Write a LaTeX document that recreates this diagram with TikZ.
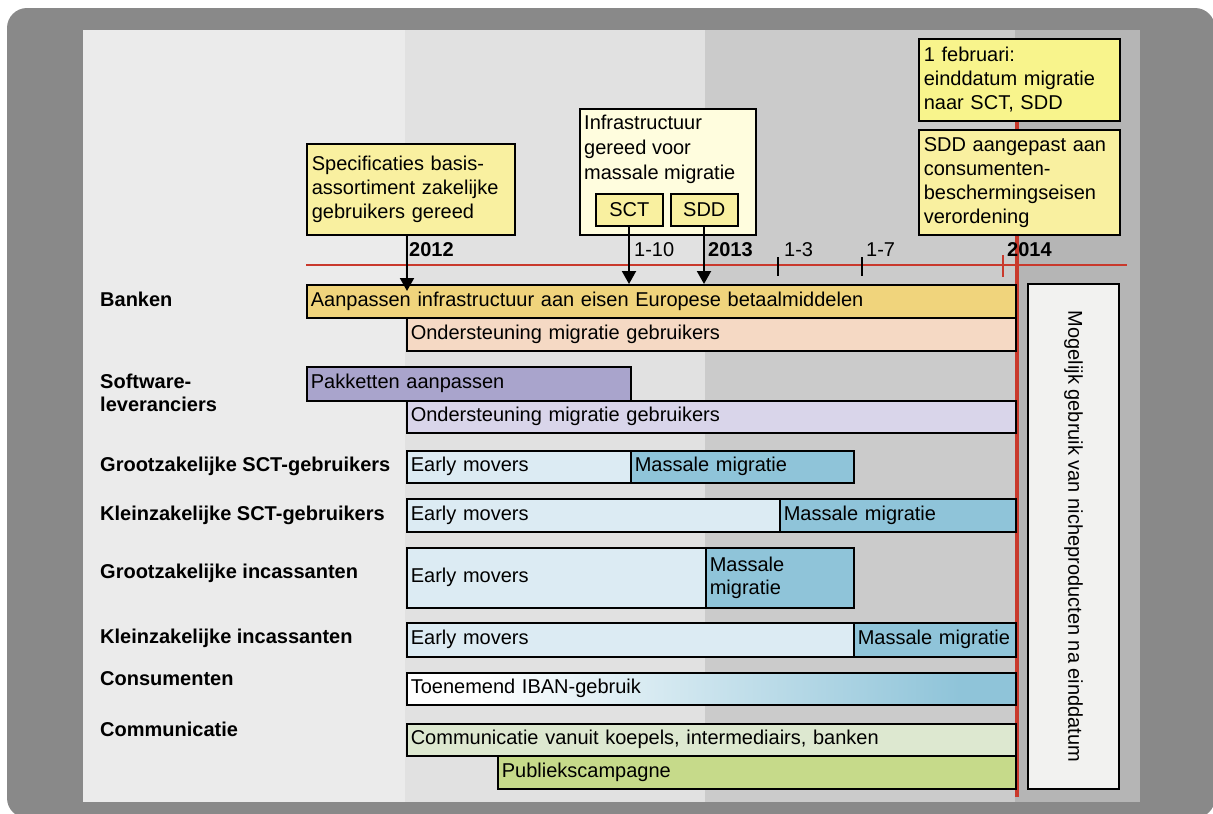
\documentclass[tikz,border=0pt]{standalone}
\usepackage{fontspec}
\setmainfont{Liberation Sans}
\usetikzlibrary{arrows.meta}
\definecolor{outergray}{HTML}{898989}
\definecolor{bandA}{HTML}{EBEBEB}
\definecolor{bandB}{HTML}{E1E1E1}
\definecolor{bandC}{HTML}{CBCBCB}
\definecolor{bandD}{HTML}{B5B5B5}
\definecolor{tlred}{HTML}{C9392C}
\definecolor{calloutY}{HTML}{F9F0A0}
\definecolor{calloutYb}{HTML}{F8F48C}
\definecolor{calloutLight}{HTML}{FFFDDE}
\definecolor{goldbar}{HTML}{F0D47C}
\definecolor{peachbar}{HTML}{F5D9C4}
\definecolor{purplebar}{HTML}{A9A4CC}
\definecolor{lilacbar}{HTML}{D9D5EA}
\definecolor{earlybar}{HTML}{DCEBF3}
\definecolor{massbar}{HTML}{8FC4D9}
\definecolor{commbar}{HTML}{DDE8D0}
\definecolor{publbar}{HTML}{C6DA8A}
\definecolor{nichebox}{HTML}{F2F2F0}
\tikzset{
  txt/.style={font=\fontsize{20}{23}\selectfont},
  barbox/.style={txt, draw=black, line width=1.6pt, inner xsep=4pt, inner ysep=0pt, align=left},
  callout/.style={txt, draw=black, line width=1.6pt, inner xsep=5pt, inner ysep=2pt, align=left, font=\fontsize{20}{24}\selectfont},
  rowlabel/.style={font=\bfseries\fontsize{20}{23}\selectfont, anchor=west, inner sep=0pt, align=left},
  yearlabel/.style={font=\bfseries\fontsize{20}{23}\selectfont, anchor=base west, inner sep=0pt},
  datelabel/.style={txt, anchor=base west, inner sep=0pt},
  arrowln/.style={line width=2pt, -{Triangle[width=14pt,length=13pt]}},
  tick/.style={line width=1.6pt}
}
\newcommand\mkbar[7]{%
  \pgfmathsetmacro\bw{#4-#2}\pgfmathsetmacro\bh{#5-#3}\pgfmathsetmacro\tw{#4-#2-8}%
  \node[barbox, fill=#6, minimum width=\bw pt, minimum height=\bh pt, text width=\tw pt, anchor=north west] (#1) at (#2,#3) {#7};}
\begin{document}
\begin{tikzpicture}[x=1pt,y=-1pt]
\useasboundingbox (0,0) rectangle (1213,814);
% frame and bands
\fill[outergray, rounded corners=20pt] (7,8) rectangle (1215,818);
\fill[bandA] (83,30) rectangle (405,802);
\fill[bandB] (405,30) rectangle (705,802);
\fill[bandC] (705,30) rectangle (1015,802);
\fill[bandD] (1015,30) rectangle (1140,802);
% timeline
\draw[tlred, line width=1.6pt] (306,265) -- (1127,265);
\draw[tick] (778,257) -- (778,276);
\draw[tick] (862,257) -- (862,276);
\draw[tlred, line width=1.6pt] (1003,255) -- (1003,277);
\draw[tlred, line width=4pt] (1017,40) -- (1017,797);
\node[yearlabel] (y12) at (409,256) {2012};
\node[datelabel] (d110) at (634,256) {1-10};
\node[yearlabel] (y13) at (708,256) {2013};
\node[datelabel] (d13) at (784,256) {1-3};
\node[datelabel] (d17) at (866,256) {1-7};
\node[yearlabel] (y14) at (1007,256) {2014};
% row labels
\node[rowlabel] (lBank) at (100,299) {Banken};
\node[rowlabel] (lSoft) at (100,393) {Software-\\leveranciers};
\node[rowlabel] (lGSCT) at (100,466) {Grootzakelijke SCT-gebruikers};
\node[rowlabel] (lKSCT) at (100,515) {Kleinzakelijke SCT-gebruikers};
\node[rowlabel] (lGInc) at (100,573) {Grootzakelijke incassanten};
\node[rowlabel] (lKInc) at (100,638) {Kleinzakelijke incassanten};
\node[rowlabel] (lCons) at (100,679) {Consumenten};
\node[rowlabel] (lComm) at (100,729) {Communicatie};
% bars
\mkbar{bAanp}{306}{284}{1015}{317}{goldbar}{Aanpassen infrastructuur aan eisen Europese betaalmiddelen}
\mkbar{bOndB}{406}{317}{1015}{350}{peachbar}{Ondersteuning migratie gebruikers}
\mkbar{bPakk}{306}{366}{630}{400}{purplebar}{Pakketten aanpassen}
\mkbar{bOndS}{406}{400}{1015}{432}{lilacbar}{Ondersteuning migratie gebruikers}
\mkbar{bGSe}{406}{450}{630}{482}{earlybar}{Early movers}
\mkbar{bGSm}{630}{450}{853}{482}{massbar}{Massale migratie}
\mkbar{bKSe}{406}{498}{779}{531}{earlybar}{Early movers}
\mkbar{bKSm}{779}{498}{1015}{531}{massbar}{Massale migratie}
\mkbar{bGIe}{406}{547}{705}{607}{earlybar}{Early movers}
\mkbar{bGIm}{705}{547}{853}{607}{massbar}{Massale\\migratie}
\mkbar{bKIe}{406}{622}{853}{656}{earlybar}{Early movers}
\mkbar{bKIm}{853}{622}{1015}{656}{massbar}{\mbox{Massale migratie}}
\fill[white] (406,672) rectangle (480,704);
\shade[left color=white, right color=massbar] (480,672) rectangle (960,704);
\fill[massbar] (960,672) rectangle (1015,704);
\mkbar{bCons}{406}{672}{1015}{704}{none}{Toenemend IBAN-gebruik}
\mkbar{bComm}{406}{723}{1015}{755}{commbar}{Communicatie vanuit koepels, intermediairs, banken}
\mkbar{bPubl}{497}{755}{1015}{788}{publbar}{Publiekscampagne}
% niche box
\node[txt, draw=black, line width=1.6pt, fill=nichebox, rotate=-90, minimum width=505pt, minimum height=91pt, inner sep=0pt] (niche) at (1073.5,536.5) {Mogelijk gebruik van nicheproducten na einddatum};
% callouts
\node[callout, fill=calloutY, text width=198pt, minimum height=91pt, anchor=north west] (spec) at (306,143) {Specificaties basis-\\assortiment zakelijke\\gebruikers gereed};
\node[callout, fill=calloutLight, minimum width=176pt, minimum height=126pt, anchor=north west] (infra) at (579,108) {};
\node[txt, anchor=north west, align=left, inner sep=0pt, font=\fontsize{20}{25}\selectfont] (infraText) at (584,115) {Infrastructuur\\gereed voor\\massale migratie};
\node[callout, fill=calloutY, minimum width=67pt, minimum height=32pt, anchor=north west, align=center, inner sep=0pt] (sct) at (595,193) {SCT};
\node[callout, fill=calloutY, minimum width=67pt, minimum height=32pt, anchor=north west, align=center, inner sep=0pt] (sdd) at (670,193) {SDD};
\node[callout, fill=calloutYb, text width=191pt, minimum height=82pt, anchor=north west] (feb) at (918,38) {1 februari:\\einddatum migratie\\naar SCT, SDD};
\node[callout, fill=calloutY, text width=191pt, minimum height=105pt, anchor=north west] (sddc) at (918,129) {SDD aangepast aan\\consumenten-\\beschermingseisen\\verordening};
% arrows
\coordinate (specTip) at (407,291);
\coordinate (sctTip) at (629,284);
\coordinate (sddTip) at (704,284);
\draw[arrowln] (spec.south -| specTip) -- (specTip);
\draw[arrowln] (sct.south -| sctTip) -- (sctTip);
\draw[arrowln] (sdd.south -| sddTip) -- (sddTip);
\end{tikzpicture}
\end{document}
